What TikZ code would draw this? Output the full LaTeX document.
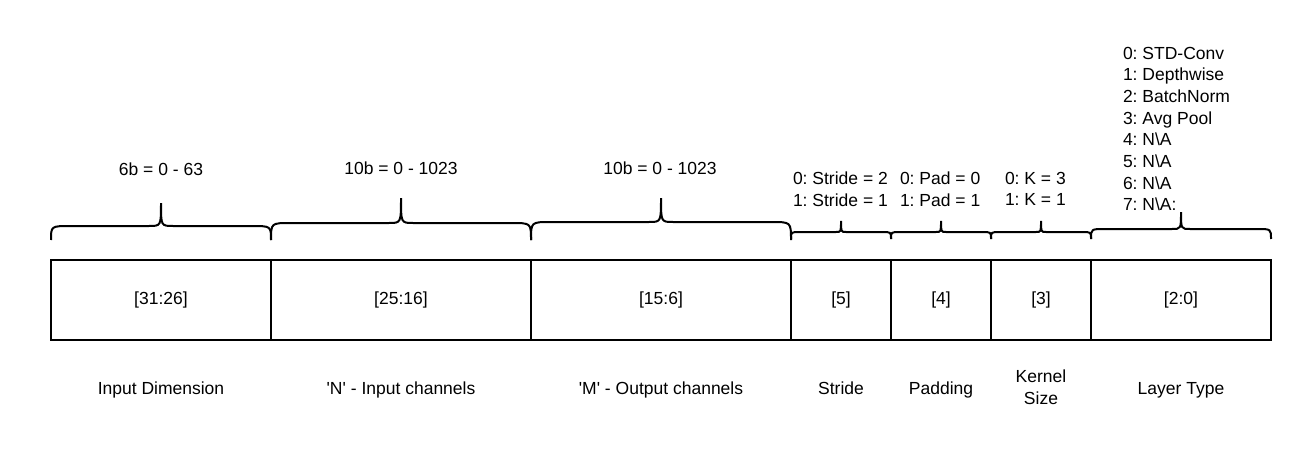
\documentclass[tikz,border=0pt]{standalone}
\usepackage{fontspec}
\setmainfont{Liberation Sans}
\begin{document}
\frenchspacing
\begin{tikzpicture}[x=1pt,y=-1pt,
  every node/.style={font=\fontsize{17.5}{21.7}\selectfont\frenchspacing,inner sep=0pt,outer sep=0pt},
  field/.style={draw,line width=2pt,minimum height=80pt},
  bline/.style={line width=2pt},
  lbl/.style={align=center},
  blbl/.style={anchor=base},
  opts/.style={align=left,anchor=west}]
\useasboundingbox (0,0) rectangle (1312,460);
% fields
\node[field,minimum width=220pt] (f1) at (161,300) {[31:26]};
\node[field,minimum width=260pt] (f2) at (401,300) {[25:16]};
\node[field,minimum width=260pt] (f3) at (661,300) {[15:6]};
\node[field,minimum width=100pt] (f4) at (841,300) {[5]};
\node[field,minimum width=100pt] (f5) at (941,300) {[4]};
\node[field,minimum width=100pt] (f6) at (1041,300) {[3]};
\node[field,minimum width=180pt] (f7) at (1181,300) {[2:0]};
% braces
\newcommand\curlyb[7]{%
 \pgfmathsetmacro\xm{(#1+#2)/2}%
 \draw[bline] (#1,#3) .. controls (#1,#4) .. (#1+#6,#4) -- (\xm-#7,#4) .. controls (\xm,#4) .. (\xm,#5) .. controls (\xm,#4) .. (\xm+#7,#4) -- (#2-#6,#4) .. controls (#2,#4) .. (#2,#3);}
\curlyb{51}{271}{240}{226}{203}{20}{12}
\curlyb{271}{531}{240}{223}{198}{20}{12}
\curlyb{531}{791}{240}{222}{198}{20}{12}
\curlyb{791}{891}{239}{232}{221}{9}{5}
\curlyb{891}{991}{239}{232}{221}{9}{5}
\curlyb{991}{1091}{239}{232}{221}{9}{5}
\curlyb{1091}{1271}{239}{229}{212}{14}{9}
% top labels
\node (t1) at (161,169) {6b = 0 - 63};
\node (t2) at (401,168) {10b = 0 - 1023};
\node (t3) at (660,168) {10b = 0 - 1023};
\node[opts] (t4) at (793,189) {0: Stride = 2\\1: Stride = 1};
\node[opts] (t5) at (900,189) {0: Pad = 0\\1: Pad = 1};
\node[opts] (t6) at (1005,189) {0: K = 3\\1: K = 1};
\node[opts] (t7) at (1123,129) {0: STD-Conv\\1: Depthwise\\2: BatchNorm\\3: Avg Pool\\4: N\textbackslash A\\5: N\textbackslash A\\6: N\textbackslash A\\7: N\textbackslash A:};
% bottom labels
\node[blbl] (b1) at (161,394) {Input Dimension};
\node[blbl] (b2) at (401,394) {\textquotesingle N\textquotesingle{} - Input channels};
\node[blbl] (b3) at (661,394) {\textquotesingle M\textquotesingle{} - Output channels};
\node[blbl] (b4) at (841,394) {Stride};
\node[blbl] (b5) at (941,394) {Padding};
\node[lbl] (b6) at (1041,387) {Kernel\\Size};
\node[blbl] (b7) at (1181,394) {Layer Type};
\end{tikzpicture}
\end{document}
